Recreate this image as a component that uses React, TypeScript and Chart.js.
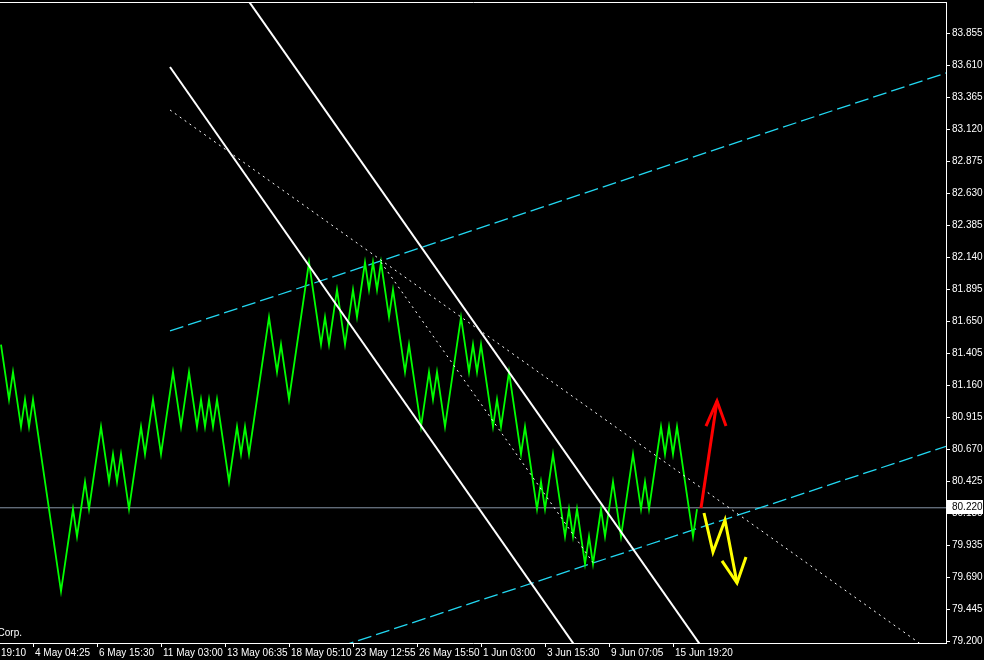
import React, { useEffect, useRef } from 'react';
import { Chart, registerables } from 'chart.js';

Chart.register(...registerables);

// ---- data ----
const priceTicks = [79.2, 79.445, 79.69, 79.935, 80.18, 80.425, 80.67, 80.915, 81.16, 81.405, 81.65, 81.895, 82.14, 82.385, 82.63, 82.875, 83.12, 83.365, 83.61, 83.855];
const timeTickBars = [-16, 16, 48, 80, 112, 144, 176, 208, 240, 272, 304, 336];
const timeTickLabels = ['1 May 19:10', '4 May 04:25', '6 May 15:30', '11 May 03:00', '13 May 06:35', '18 May 05:10', '23 May 12:55', '26 May 15:50', '1 Jun 03:00', '3 Jun 15:30', '9 Jun 07:05', '15 Jun 19:20'];

const pathBars = [0, 4, 6, 10, 12, 14, 16, 30, 36, 38, 42, 44, 50, 54, 56, 58, 60, 64, 70, 72, 76, 80, 86, 90, 94, 98, 100, 102, 104, 106, 108, 114, 118, 120, 122, 124, 134, 138, 140, 144, 154, 160, 162, 164, 168, 172, 176, 178, 182, 184, 186, 188, 190, 194, 196, 202, 204, 210, 214, 216, 218, 222, 230, 234, 236, 238, 240, 246, 248, 250, 254, 260, 262, 268, 270, 272, 276, 282, 284, 286, 288, 292, 294, 296, 300, 302, 306, 310, 316, 320, 322, 324, 330, 332, 334, 336, 338, 346, 348];
const pathPrices = [81.47, 81.05, 81.26, 80.84, 81.05, 80.84, 81.05, 79.58, 80.21, 80.0, 80.42, 80.21, 80.84, 80.42, 80.63, 80.42, 80.63, 80.21, 80.84, 80.63, 81.05, 80.63, 81.26, 80.84, 81.26, 80.84, 81.05, 80.84, 81.05, 80.84, 81.05, 80.42, 80.84, 80.63, 80.84, 80.63, 81.68, 81.26, 81.47, 81.05, 82.1, 81.47, 81.68, 81.47, 81.89, 81.47, 81.89, 81.68, 82.1, 81.89, 82.1, 81.89, 82.1, 81.68, 81.89, 81.26, 81.47, 80.84, 81.26, 81.05, 81.26, 80.84, 81.68, 81.26, 81.47, 81.26, 81.47, 80.84, 81.05, 80.84, 81.26, 80.63, 80.84, 80.21, 80.42, 80.21, 80.63, 80.0, 80.21, 80.0, 80.21, 79.79, 80.0, 79.79, 80.21, 80.0, 80.42, 80.0, 80.63, 80.21, 80.42, 80.21, 80.84, 80.63, 80.84, 80.63, 80.84, 80.0, 80.21];

const trendSolidA = [[84.5, 83.595], [288.45, 79.131]];
const trendSolidB = [[121.7, 84.146], [351.45, 79.131]];
const trendDotA = [[84.5, 83.266], [464.5, 79.126]];
const trendDotB = [[190, 82.1], [296, 79.8]];
const channelUpper = [[84.5, 81.574], [479.5, 83.585]];
const channelLower = [[169.5, 79.157], [479.5, 80.726]];
const currentPrice = 80.22;
const currentLine = [[-1, currentPrice], [480, currentPrice]];
const redArrowShaft = [[350, 80.218], [358, 81.038]];
const redArrowHead = [[352.5, 80.846], [358, 81.038], [362.5, 80.846]];
const yellowPath = [[351.5, 80.18], [356, 79.881], [362, 80.126], [368, 79.644]];
const yellowHead = [[360.5, 79.813], [368, 79.644], [372.5, 79.843]];

const FONT = 'Liberation Sans';

function pts(a: number[][]) {
  return a.map(([x, y]) => ({ x, y }));
}

function ds(data: any[], color: string, width: number, dash: number[] = []) {
  return {
    type: 'line' as const,
    data,
    borderColor: color,
    borderWidth: width,
    borderDash: dash,
    pointRadius: 0,
    pointHoverRadius: 0,
    tension: 0,
    fill: false,
  };
}

const overlayPlugin = {
  id: 'overlay',
  afterDraw(chart: any) {
    const { ctx, chartArea, scales } = chart;
    ctx.save();
    // top frame line
    ctx.strokeStyle = '#ffffff';
    ctx.lineWidth = 1;
    ctx.beginPath();
    ctx.moveTo(chartArea.left, chartArea.top + 0.5);
    ctx.lineTo(chartArea.right + 1, chartArea.top + 0.5);
    ctx.stroke();
    // copyright text
    ctx.font = `10px "${FONT}"`;
    ctx.fillStyle = '#ffffff';
    ctx.textAlign = 'right';
    ctx.textBaseline = 'alphabetic';
    ctx.fillText('MetaQuotes Software Corp.', 22, 636);
    // current price label
    const y = Math.round(scales.y.getPixelForValue(currentPrice));
    ctx.fillStyle = '#ffffff';
    ctx.fillRect(chartArea.right + 1, y - 8, 36, 14);
    ctx.fillStyle = '#000000';
    ctx.textAlign = 'left';
    ctx.textBaseline = 'middle';
    ctx.fillText(currentPrice.toFixed(3), chartArea.right + 6, y - 1);
    ctx.restore();
  },
};

export default function App() {
  const ref = useRef<HTMLCanvasElement>(null);
  useEffect(() => {
    document.body.style.margin = '0';
    const pricePath = pathBars.map((b, i) => ({ x: b, y: pathPrices[i] }));
    const chart = new Chart(ref.current as HTMLCanvasElement, {
      type: 'line',
      data: {
        datasets: [
          ds(pts(redArrowShaft), '#ff0000', 3),
          ds(pts(redArrowHead), '#ff0000', 3),
          ds(pts(yellowPath), '#ffff00', 3),
          ds(pts(yellowHead), '#ffff00', 3),
          ds(pts(trendSolidA), '#ffffff', 2),
          ds(pts(trendSolidB), '#ffffff', 2),
          ds(pts(trendDotA), '#ffffff', 1, [2, 4]),
          ds(pts(trendDotB), '#ffffff', 1, [2, 4]),
          ds(pricePath, '#00ff00', 1.8),
          ds(pts(channelUpper), '#22d8f2', 1.3, [14, 5]),
          ds(pts(channelLower), '#22d8f2', 1.3, [14, 5]),
          ds(pts(currentLine), '#8896a8', 1),
        ] as any,
      },
      options: {
        responsive: false,
        devicePixelRatio: 1,
        animation: false,
        parsing: false as any,
        layout: { padding: { top: 2, left: 0, right: 0, bottom: 0 } },
        plugins: {
          legend: { display: false },
          tooltip: { enabled: false },
        },
        events: [],
        scales: {
          x: {
            type: 'linear',
            min: -0.5,
            max: 472.5,
            bounds: 'data',
            afterFit: (s: any) => { s.height = 17; s.paddingLeft = 0; s.paddingRight = 0; },
            afterBuildTicks: (s: any) => { s.ticks = timeTickBars.map((v) => ({ value: v })); },
            border: { display: true, color: '#ffffff', width: 1 },
            grid: { drawOnChartArea: false, drawTicks: true, tickLength: 4, color: '#ffffff' },
            ticks: {
              autoSkip: false,
              maxRotation: 0,
              minRotation: 0,
              align: 'start',
              labelOffset: 2,
              padding: 0,
              color: '#ffffff',
              font: { family: FONT, size: 10 },
              callback: (_v: any, i: number) => timeTickLabels[i],
            },
          },
          y: {
            type: 'linear',
            position: 'right',
            min: 79.1847,
            max: 84.0928,
            bounds: 'data',
            afterFit: (s: any) => { s.width = 38; s.paddingTop = 0; s.paddingBottom = 0; },
            afterBuildTicks: (s: any) => { s.ticks = priceTicks.map((v) => ({ value: v })); },
            border: { display: true, color: '#ffffff', width: 1 },
            grid: { drawOnChartArea: false, drawTicks: true, tickLength: 4, color: '#ffffff' },
            ticks: {
              autoSkip: false,
              padding: 2,
              color: '#ffffff',
              font: { family: FONT, size: 10 },
              callback: (v: any) => Number(v).toFixed(3),
            },
          },
        },
      },
      plugins: [overlayPlugin],
    });
    return () => chart.destroy();
  }, []);
  return (
    <div style={{ position: 'fixed', left: 0, top: 0, width: 984, height: 660, background: '#000000' }}>
      <canvas ref={ref} width={984} height={660} style={{ display: 'block' }} />
    </div>
  );
}
